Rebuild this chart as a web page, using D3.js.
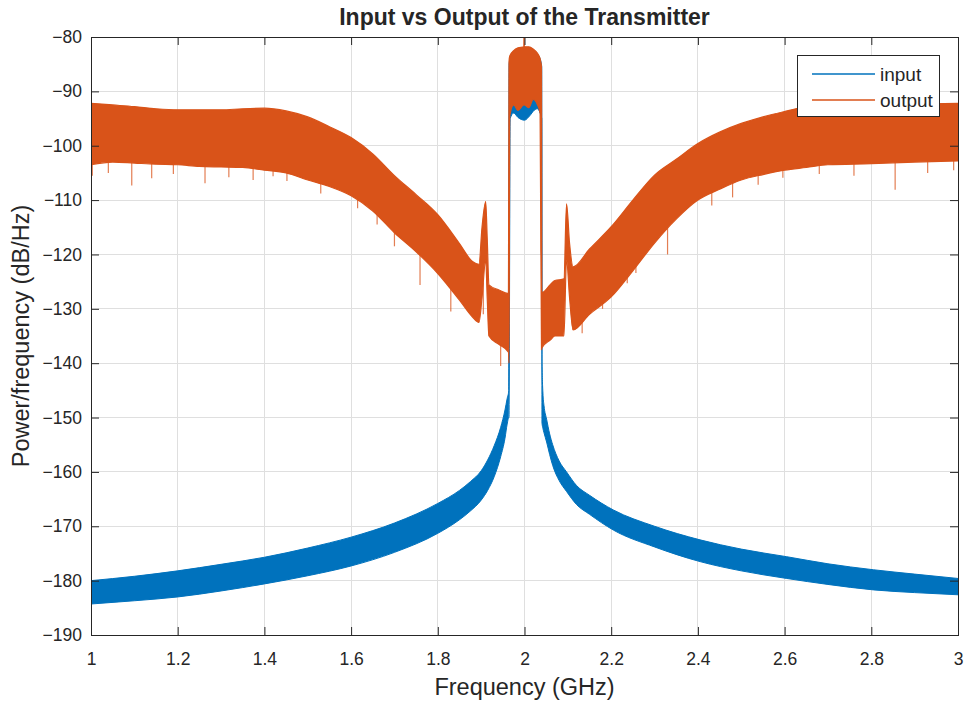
<!DOCTYPE html>
<html>
<head>
<meta charset="utf-8">
<script src="https://cdn.jsdelivr.net/npm/d3@7"></script>
<style>
  html, body { margin: 0; padding: 0; background: #fff; }
  svg text { font-family: "Liberation Sans", Arial, Helvetica, sans-serif; fill: #262626; }
</style>
</head>
<body>
<svg id="chart" width="966" height="706"></svg>
<script>
// ---------------- DATA ----------------
const titleText = "Input vs Output of the Transmitter";
const xLabelText = "Frequency (GHz)";
const yLabelText = "Power/frequency (dB/Hz)";
const seriesNames = ["input", "output"];

const xTicks = [1, 1.2, 1.4, 1.6, 1.8, 2, 2.2, 2.4, 2.6, 2.8, 3];
const xTickLabels = ["1", "1.2", "1.4", "1.6", "1.8", "2", "2.2", "2.4", "2.6", "2.8", "3"];
const yTicks = [-80, -90, -100, -110, -120, -130, -140, -150, -160, -170, -180, -190];
const yTickLabels = ["\u221280", "\u221290", "\u2212100", "\u2212110", "\u2212120", "\u2212130", "\u2212140", "\u2212150", "\u2212160", "\u2212170", "\u2212180", "\u2212190"];

// input (blue) spectrum band: frequency (GHz), upper and lower envelope (dB/Hz)
const inFreq  = [1.00, 1.10, 1.20, 1.30, 1.40, 1.50, 1.60, 1.70, 1.80, 1.85, 1.875, 1.90, 1.915, 1.93, 1.945, 1.955, 1.960, 1.9638, 1.9643, 1.967, 1.975, 1.985, 2.000, 2.012, 2.022, 2.030, 2.036, 2.0398, 2.0404, 2.0425, 2.045, 2.051, 2.058, 2.065, 2.080, 2.097, 2.120, 2.150, 2.205, 2.300, 2.405, 2.500, 2.605, 2.700, 2.805, 2.900, 3.000];
const inUpper = [-180.0, -179.2, -178.2, -177.0, -175.7, -174.0, -172.0, -169.4, -165.8, -163.4, -161.8, -159.8, -157.8, -155.2, -151.8, -148.6, -146.5, -145.0, -85.0, -84.0, -83.0, -82.5, -82.3, -82.3, -82.8, -83.2, -84.0, -85.5, -140.0, -145.5, -147.8, -150.3, -153.0, -155.0, -158.0, -160.0, -162.5, -164.3, -167.0, -170.0, -172.5, -174.2, -175.6, -176.9, -178.0, -178.8, -179.6];
const inLower = [-184.3, -183.7, -183.0, -181.9, -180.6, -179.1, -177.3, -174.8, -171.3, -168.8, -167.2, -165.2, -163.4, -160.9, -157.2, -153.8, -151.2, -150.0, -150.0, -95.0, -94.0, -94.8, -95.3, -94.5, -93.5, -93.2, -94.0, -95.0, -151.0, -152.0, -152.8, -154.5, -156.8, -158.8, -161.6, -163.6, -166.0, -167.8, -170.7, -173.8, -176.5, -178.2, -179.6, -180.7, -181.7, -182.2, -182.6];

// output (orange) spectrum band: frequency (GHz), upper and lower envelope (dB/Hz)
const outFreq  = [1.000, 1.050, 1.100, 1.150, 1.200, 1.250, 1.300, 1.350, 1.400, 1.450, 1.500, 1.550, 1.600, 1.650, 1.700, 1.750, 1.800, 1.850, 1.880, 1.895, 1.902, 1.9105, 1.914, 1.918, 1.940, 1.963, 1.9643, 1.966, 1.975, 1.985, 1.9985, 1.9990, 1.9995, 2.010, 2.020, 2.030, 2.036, 2.0392, 2.0400, 2.060, 2.070, 2.091, 2.097, 2.104, 2.112, 2.150, 2.200, 2.250, 2.300, 2.350, 2.400, 2.450, 2.500, 2.550, 2.600, 2.650, 2.700, 2.800, 2.900, 3.000];
const outUpper = [-92.2, -92.5, -92.8, -93.2, -93.4, -93.4, -93.4, -93.2, -93.1, -93.6, -94.7, -96.5, -98.5, -101.5, -105.5, -109.0, -112.7, -118.0, -121.3, -121.8, -115.0, -110.3, -117.0, -125.6, -126.5, -127.2, -84.5, -83.5, -82.5, -82.0, -81.8, -79.0, -81.8, -81.8, -82.2, -83.0, -84.0, -85.5, -127.0, -125.5, -124.8, -124.5, -110.7, -118.0, -122.3, -119.0, -114.9, -110.0, -105.4, -102.5, -99.6, -97.5, -95.9, -94.7, -93.7, -92.8, -92.2, -92.3, -92.3, -92.2];
const outLower = [-103.5, -103.0, -103.2, -103.4, -103.5, -103.8, -103.9, -104.0, -104.5, -105.0, -106.3, -107.5, -109.2, -112.0, -116.0, -119.5, -123.5, -128.4, -131.5, -132.5, -128.0, -121.0, -128.0, -135.0, -136.5, -138.0, -140.0, -94.5, -92.5, -93.5, -92.5, -92.5, -92.5, -93.0, -91.5, -92.5, -94.0, -137.5, -137.2, -135.7, -135.0, -135.0, -121.0, -128.0, -133.9, -131.0, -127.8, -123.0, -117.9, -113.5, -110.0, -108.0, -106.3, -105.3, -104.5, -104.0, -103.5, -103.3, -103.0, -102.8];

// prominent downward noise spikes of the output trace: frequency, lowest value
const outDipFreq = [1.003, 1.040, 1.094, 1.140, 1.190, 1.263, 1.318, 1.374, 1.420, 1.452, 1.530, 1.615, 1.660, 1.700, 1.759, 1.830, 1.905, 1.945, 2.133, 2.180, 2.237, 2.257, 2.330, 2.432, 2.480, 2.539, 2.596, 2.680, 2.760, 2.855, 2.930, 2.990];
const outDipVal  = [-105.5, -105.0, -107.3, -106.0, -105.2, -106.9, -105.8, -106.3, -105.6, -106.5, -108.8, -111.5, -114.5, -118.5, -125.6, -130.5, -131.0, -140.5, -134.5, -130.0, -125.3, -123.4, -120.0, -111.0, -109.5, -107.2, -105.9, -105.2, -105.5, -108.1, -105.0, -104.5];

// ---------------- DRAWING ----------------
const W = 966, H = 706;
const plot = { left: 91, right: 958, top: 37, bottom: 635 };
const colors = { input: "#0072BD", output: "#D95319" };
const axisColor = "#262626";
const gridColor = "#dfdfdf";

const svg = d3.select("#chart");
const x = d3.scaleLinear().domain([1, 3]).range([plot.left, plot.right]);
const y = d3.scaleLinear().domain([-190, -80]).range([plot.bottom, plot.top]);

svg.append("rect").attr("x", 0).attr("y", 0).attr("width", W).attr("height", H).attr("fill", "#fff");

svg.append("clipPath").attr("id", "clip").append("rect")
  .attr("x", plot.left).attr("y", plot.top)
  .attr("width", plot.right - plot.left).attr("height", plot.bottom - plot.top);

// grid
const grid = svg.append("g");
grid.selectAll(".gx").data(xTicks).join("line")
  .attr("x1", d => x(d)).attr("x2", d => x(d))
  .attr("y1", plot.top).attr("y2", plot.bottom)
  .attr("stroke", gridColor).attr("stroke-width", 1).attr("shape-rendering", "crispEdges");
grid.selectAll(".gy").data(yTicks).join("line")
  .attr("y1", d => y(d)).attr("y2", d => y(d))
  .attr("x1", plot.left).attr("x2", plot.right)
  .attr("stroke", gridColor).attr("stroke-width", 1).attr("shape-rendering", "crispEdges");

const dataG = svg.append("g").attr("clip-path", "url(#clip)");

const bandArea = d3.area()
  .x(d => x(d.f)).y0(d => y(d.lo)).y1(d => y(d.hi))
  .curve(d3.curveMonotoneX);

const inData = inFreq.map((f, i) => ({ f, hi: inUpper[i], lo: inLower[i] }));
const outData = outFreq.map((f, i) => ({ f, hi: outUpper[i], lo: outLower[i] }));

dataG.append("path").datum(inData)
  .attr("d", bandArea)
  .attr("fill", colors.input).attr("stroke", colors.input).attr("stroke-width", 1);

// output dips
const lowerAt = d3.scaleLinear().domain(outFreq).range(outLower);
dataG.selectAll(".dip").data(outDipFreq.map((f, i) => ({ f, v: outDipVal[i] })))
  .join("line")
  .attr("x1", d => x(d.f)).attr("x2", d => x(d.f))
  .attr("y1", d => y(lowerAt(d.f)) - 2).attr("y2", d => y(d.v))
  .attr("stroke", colors.output).attr("stroke-width", 1.2).attr("stroke-opacity", 0.75);

dataG.append("path").datum(outData)
  .attr("d", bandArea)
  .attr("fill", colors.output).attr("stroke", colors.output).attr("stroke-width", 1.2);

// axes box with inward ticks
const axesG = svg.append("g");
axesG.append("rect")
  .attr("x", plot.left).attr("y", plot.top)
  .attr("width", plot.right - plot.left).attr("height", plot.bottom - plot.top)
  .attr("fill", "none").attr("stroke", axisColor).attr("stroke-width", 1).attr("shape-rendering", "crispEdges");

const tickLen = 8;
const xAxisB = d3.axisBottom(x).tickValues(xTicks).tickFormat((d, i) => xTickLabels[i]).tickSizeInner(-tickLen).tickSizeOuter(0).tickPadding(18);
const gxB = axesG.append("g").attr("transform", `translate(0,${plot.bottom})`).call(xAxisB);
const xAxisT = d3.axisTop(x).tickValues(xTicks).tickFormat("").tickSizeInner(-tickLen).tickSizeOuter(0);
const gxT = axesG.append("g").attr("transform", `translate(0,${plot.top})`).call(xAxisT);
const yAxisL = d3.axisLeft(y).tickValues(yTicks).tickFormat((d, i) => yTickLabels[i]).tickSizeInner(-tickLen).tickSizeOuter(0).tickPadding(9);
const gyL = axesG.append("g").attr("transform", `translate(${plot.left},0)`).call(yAxisL);
const yAxisR = d3.axisRight(y).tickValues(yTicks).tickFormat("").tickSizeInner(-tickLen).tickSizeOuter(0);
const gyR = axesG.append("g").attr("transform", `translate(${plot.right},0)`).call(yAxisR);

[gxB, gxT, gyL, gyR].forEach(g => {
  g.select(".domain").remove();
  g.selectAll(".tick line").attr("stroke", axisColor).attr("stroke-width", 1);
  g.selectAll(".tick text").attr("fill", axisColor)
    .style("font-family", '"Liberation Sans", Arial, sans-serif').style("font-size", "17.5px");
});

// title and labels
svg.append("text").attr("x", (plot.left + plot.right) / 2).attr("y", 25)
  .attr("text-anchor", "middle").style("font-size", "23px").style("font-weight", "bold")
  .text(titleText);
svg.append("text").attr("x", (plot.left + plot.right) / 2).attr("y", 695)
  .attr("text-anchor", "middle").style("font-size", "23.5px")
  .text(xLabelText);
svg.append("text").attr("transform", `translate(29,${(plot.top + plot.bottom) / 2}) rotate(-90)`)
  .attr("text-anchor", "middle").style("font-size", "23.5px")
  .text(yLabelText);

// legend
const lg = svg.append("g");
lg.append("rect").attr("x", 797.5).attr("y", 55.5).attr("width", 142).attr("height", 61)
  .attr("fill", "#fff").attr("stroke", axisColor).attr("stroke-width", 1);
seriesNames.forEach((name, i) => {
  const yy = 74 + i * 26;
  lg.append("line").attr("x1", 812).attr("x2", 875).attr("y1", yy).attr("y2", yy)
    .attr("stroke", colors[name]).attr("stroke-width", 1.5);
  lg.append("text").attr("x", 880).attr("y", yy).attr("dy", "0.35em")
    .style("font-size", "19px").text(name);
});
</script>
</body>
</html>
